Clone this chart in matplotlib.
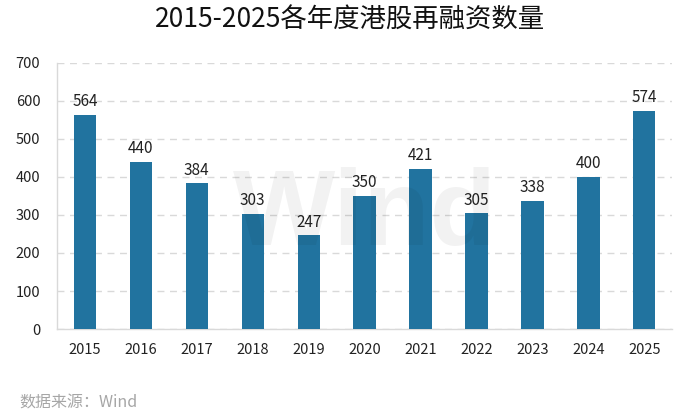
import matplotlib
matplotlib.use("Agg")
import matplotlib.pyplot as plt

plt.rcParams['font.family'] = ['Noto Sans CJK SC', 'DejaVu Sans']

years = ['2015', '2016', '2017', '2018', '2019', '2020', '2021', '2022', '2023', '2024', '2025']
counts = [564, 440, 384, 303, 247, 350, 421, 305, 338, 400, 574]
title = '2015-2025各年度港股再融资数量'
source = '数据来源：Wind'

fig = plt.figure(figsize=(7, 4.17), dpi=100)
ax = fig.add_axes([0.0814, 0.211, 0.879, 0.638])

x = range(len(years))
bars = ax.bar(x, counts, width=0.4, color='#21739f', zorder=3)
for xi, v in zip(x, counts):
    ax.text(xi, v + 12, str(v), ha='center', va='bottom', fontsize=11, color='#222222', zorder=4)

ax.set_xlim(-0.5, len(years) - 0.5)
ax.set_ylim(0, 700)
ax.set_yticks(range(0, 701, 100))
ax.set_xticks(list(x))
ax.set_xticklabels(years)
ax.tick_params(axis='both', length=0, labelsize=10.5, colors='#222222')
ax.tick_params(axis='x', pad=10)
ax.tick_params(axis='y', pad=12)
ax.yaxis.grid(True, linestyle=(0, (5, 4)), color='#d9d9d9', linewidth=1, zorder=0)
for s in ['top', 'right']:
    ax.spines[s].set_visible(False)
for s in ['left', 'bottom']:
    ax.spines[s].set_color('#d9d9d9')
    ax.spines[s].set_linewidth(1)

fig.text(365 / 700, 1 - 217 / 417, 'Wind', ha='center', va='center',
         fontsize=78, fontweight='bold', color='#000000', alpha=0.05, zorder=5,
         family='Liberation Sans')

fig.text(0.5, 0.952, title, ha='center', va='center', fontsize=19, color='#111111')
fig.text(0.027, 0.034, source, ha='left', va='center', fontsize=11.5, color='#a6a6a6')

fig.savefig('out.png', dpi=100)
